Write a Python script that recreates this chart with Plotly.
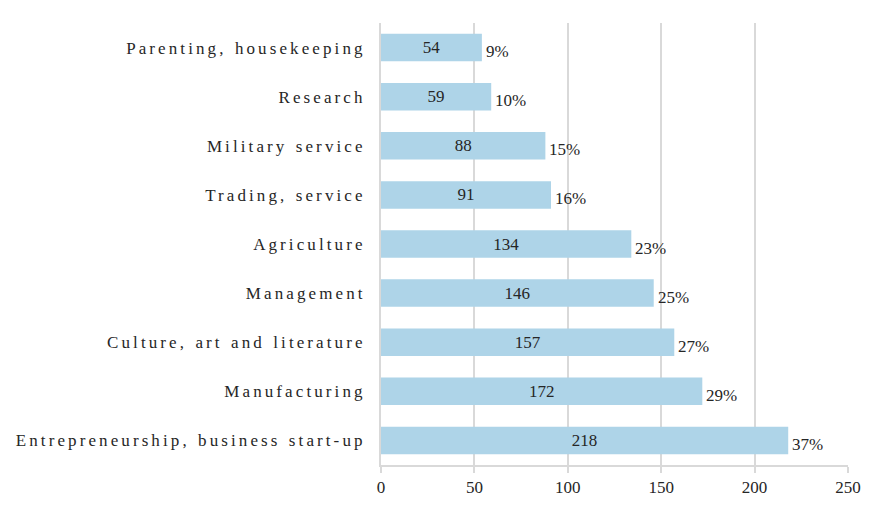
import plotly.graph_objects as go

categories = ["Entrepreneurship, business start-up", "Manufacturing", "Culture, art and literature",
              "Management", "Agriculture", "Trading, service", "Military service",
              "Research", "Parenting, housekeeping"]
values = [218, 172, 157, 146, 134, 91, 88, 59, 54]
percents = ["37%", "29%", "27%", "25%", "23%", "16%", "15%", "10%", "9%"]
x_ticks = [0, 50, 100, 150, 200, 250]

FONT = "Liberation Serif, Times New Roman, serif"
GRID = "#D9D9D9"
TXT = "#262626"

fig = go.Figure()
fig.add_trace(go.Bar(
    y=categories, x=values, orientation="h",
    marker=dict(color="#AED4E8", line=dict(width=0)),
    text=[str(v) for v in values], textposition="inside", insidetextanchor="middle",
    textfont=dict(family=FONT, size=17, color=TXT),
    cliponaxis=False, hoverinfo="skip",
))
for c, v, p in zip(categories, values, percents):
    fig.add_annotation(x=v, y=c, text=p, showarrow=False, xanchor="left", yanchor="middle",
                       xshift=2, yshift=-4, font=dict(family=FONT, size=17, color=TXT))

fig.update_layout(
    width=886, height=511, margin=dict(l=381, r=38, t=23, b=46),
    paper_bgcolor="white", plot_bgcolor="white", showlegend=False, bargap=0.44,
    font=dict(family=FONT, size=17, color=TXT),
)
fig.update_xaxes(range=[0, 250], tickvals=x_ticks, showgrid=True, gridcolor=GRID, gridwidth=2,
                 zeroline=False, showline=True, linecolor=GRID, linewidth=2,
                 ticks="outside", ticklen=6, tickwidth=2, tickcolor=GRID,
                 tickfont=dict(family=FONT, size=17, color=TXT))
fig.update_yaxes(categoryorder="array", categoryarray=categories, showgrid=False,
                 showline=True, linecolor=GRID, linewidth=2, ticks="", ticklabelstandoff=10,
                 tickfont=dict(family=FONT, size=17, color=TXT))

post = ("document.body.style.margin='0';"
        "var gd=document.getElementById('{plot_id}');"
        "gd.querySelectorAll('.ytick text').forEach(function(t){"
        "t.setAttribute('letter-spacing','3.1px');t.setAttribute('word-spacing','1px');});")
fig.write_html("out.html", post_script=post, config={"displayModeBar": False})
